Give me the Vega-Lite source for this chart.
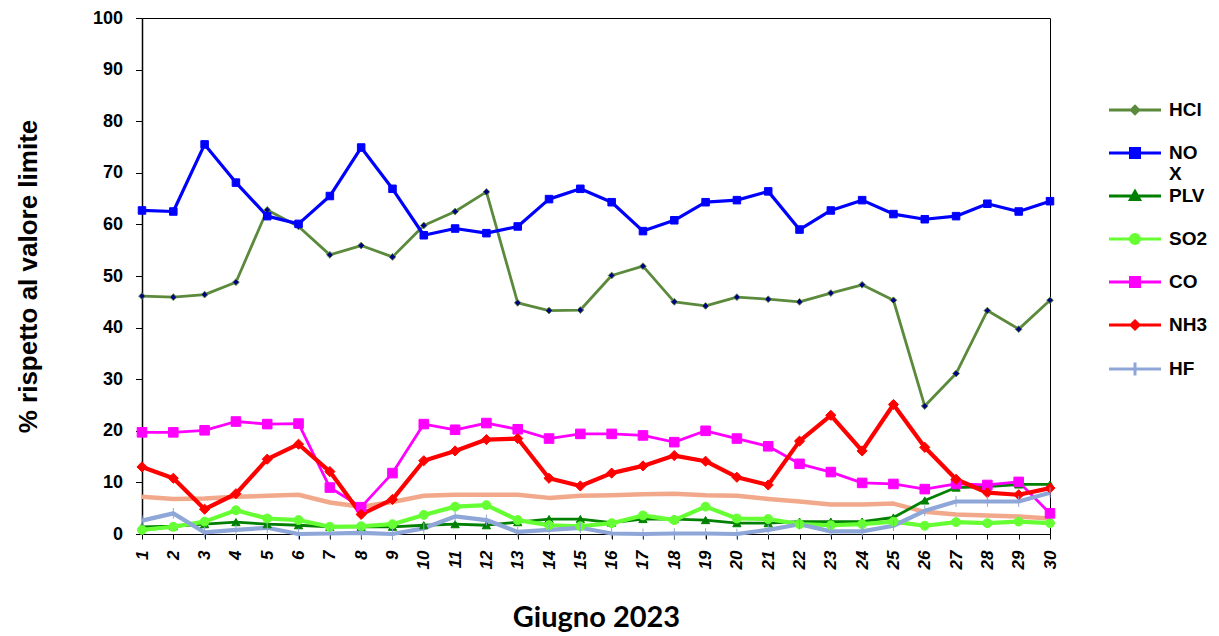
{
  "$schema": "https://vega.github.io/schema/vega-lite/v6.json",
  "autosize": "none",
  "padding": {"left": 142, "top": 18, "right": 169, "bottom": 102},
  "width": 908,
  "height": 516,
  "background": "white",
  "config": {
    "view": {"stroke": "black", "strokeWidth": 1},
    "axis": {"grid": false, "domainColor": "black", "tickColor": "black", "labelColor": "black", "titleColor": "black", "labelFont": "Liberation Sans", "titleFont": "Liberation Sans", "labelFontWeight": "bold", "titleFontWeight": "bold"}
  },
  "data": {
    "values": [
      {"day": 1, "HCl": 46.1, "NOX": 62.7, "PLV": 1.4, "SO2": 0.8, "CO": 19.7, "NH3": 13.0, "HF": 2.6, "Altro": 7.2},
      {"day": 2, "HCl": 45.9, "NOX": 62.5, "PLV": 1.5, "SO2": 1.4, "CO": 19.7, "NH3": 10.8, "HF": 4.0, "Altro": 6.8},
      {"day": 3, "HCl": 46.4, "NOX": 75.5, "PLV": 1.9, "SO2": 2.4, "CO": 20.1, "NH3": 4.8, "HF": 0.3, "Altro": 6.9},
      {"day": 4, "HCl": 48.8, "NOX": 68.1, "PLV": 2.3, "SO2": 4.6, "CO": 21.8, "NH3": 7.8, "HF": 0.8, "Altro": 7.2},
      {"day": 5, "HCl": 62.8, "NOX": 61.6, "PLV": 1.9, "SO2": 3.0, "CO": 21.3, "NH3": 14.5, "HF": 1.2, "Altro": 7.4},
      {"day": 6, "HCl": 59.6, "NOX": 60.1, "PLV": 1.7, "SO2": 2.7, "CO": 21.4, "NH3": 17.4, "HF": 0.0, "Altro": 7.6},
      {"day": 7, "HCl": 54.1, "NOX": 65.5, "PLV": 1.4, "SO2": 1.4, "CO": 9.0, "NH3": 12.1, "HF": 0.1, "Altro": 6.1},
      {"day": 8, "HCl": 55.9, "NOX": 74.9, "PLV": 1.4, "SO2": 1.5, "CO": 5.2, "NH3": 3.8, "HF": 0.2, "Altro": 5.3},
      {"day": 9, "HCl": 53.7, "NOX": 66.9, "PLV": 1.4, "SO2": 1.9, "CO": 11.8, "NH3": 6.7, "HF": 0.0, "Altro": 6.2},
      {"day": 10, "HCl": 59.8, "NOX": 57.9, "PLV": 1.7, "SO2": 3.7, "CO": 21.3, "NH3": 14.2, "HF": 1.1, "Altro": 7.4},
      {"day": 11, "HCl": 62.5, "NOX": 59.2, "PLV": 1.9, "SO2": 5.3, "CO": 20.2, "NH3": 16.1, "HF": 3.4, "Altro": 7.6},
      {"day": 12, "HCl": 66.3, "NOX": 58.3, "PLV": 1.7, "SO2": 5.6, "CO": 21.5, "NH3": 18.3, "HF": 2.7, "Altro": 7.6},
      {"day": 13, "HCl": 44.8, "NOX": 59.6, "PLV": 2.3, "SO2": 2.7, "CO": 20.3, "NH3": 18.5, "HF": 0.4, "Altro": 7.6},
      {"day": 14, "HCl": 43.3, "NOX": 64.9, "PLV": 2.9, "SO2": 1.7, "CO": 18.5, "NH3": 10.8, "HF": 0.8, "Altro": 7.0},
      {"day": 15, "HCl": 43.4, "NOX": 66.9, "PLV": 2.9, "SO2": 1.5, "CO": 19.4, "NH3": 9.3, "HF": 1.2, "Altro": 7.4},
      {"day": 16, "HCl": 50.1, "NOX": 64.3, "PLV": 2.2, "SO2": 2.1, "CO": 19.4, "NH3": 11.8, "HF": 0.1, "Altro": 7.5},
      {"day": 17, "HCl": 51.9, "NOX": 58.7, "PLV": 2.9, "SO2": 3.6, "CO": 19.1, "NH3": 13.2, "HF": 0.0, "Altro": 7.7},
      {"day": 18, "HCl": 45.0, "NOX": 60.8, "PLV": 2.9, "SO2": 2.7, "CO": 17.8, "NH3": 15.2, "HF": 0.1, "Altro": 7.8},
      {"day": 19, "HCl": 44.2, "NOX": 64.3, "PLV": 2.7, "SO2": 5.3, "CO": 20.0, "NH3": 14.1, "HF": 0.1, "Altro": 7.5},
      {"day": 20, "HCl": 45.9, "NOX": 64.7, "PLV": 2.1, "SO2": 3.0, "CO": 18.5, "NH3": 11.0, "HF": 0.0, "Altro": 7.4},
      {"day": 21, "HCl": 45.5, "NOX": 66.4, "PLV": 2.1, "SO2": 2.9, "CO": 17.0, "NH3": 9.5, "HF": 0.8, "Altro": 6.8},
      {"day": 22, "HCl": 45.0, "NOX": 59.0, "PLV": 2.4, "SO2": 1.9, "CO": 13.6, "NH3": 18.0, "HF": 1.9, "Altro": 6.3},
      {"day": 23, "HCl": 46.7, "NOX": 62.7, "PLV": 2.4, "SO2": 1.7, "CO": 12.0, "NH3": 23.0, "HF": 0.5, "Altro": 5.7},
      {"day": 24, "HCl": 48.3, "NOX": 64.7, "PLV": 2.4, "SO2": 1.9, "CO": 9.9, "NH3": 16.1, "HF": 0.5, "Altro": 5.7},
      {"day": 25, "HCl": 45.3, "NOX": 62.0, "PLV": 3.2, "SO2": 2.4, "CO": 9.7, "NH3": 25.1, "HF": 1.6, "Altro": 5.9},
      {"day": 26, "HCl": 24.8, "NOX": 61.0, "PLV": 6.5, "SO2": 1.6, "CO": 8.7, "NH3": 16.8, "HF": 4.5, "Altro": 4.3},
      {"day": 27, "HCl": 31.1, "NOX": 61.6, "PLV": 9.0, "SO2": 2.3, "CO": 9.7, "NH3": 10.6, "HF": 6.3, "Altro": 3.8},
      {"day": 28, "HCl": 43.3, "NOX": 64.0, "PLV": 9.2, "SO2": 2.1, "CO": 9.5, "NH3": 8.0, "HF": 6.3, "Altro": 3.6},
      {"day": 29, "HCl": 39.7, "NOX": 62.5, "PLV": 9.6, "SO2": 2.4, "CO": 10.1, "NH3": 7.6, "HF": 6.3, "Altro": 3.4},
      {"day": 30, "HCl": 45.3, "NOX": 64.5, "PLV": 9.6, "SO2": 2.1, "CO": 4.0, "NH3": 8.9, "HF": 8.0, "Altro": 3.0}
    ]
  },
  "transform": [
    {"fold": ["Altro", "HCl", "NOX", "PLV", "SO2", "CO", "NH3", "HF"], "as": ["series", "value"]}
  ],
  "encoding": {
    "x": {
      "field": "day", "type": "quantitative",
      "scale": {"domain": [1, 30], "nice": false, "zero": false},
      "axis": {
        "values": [1,2,3,4,5,6,7,8,9,10,11,12,13,14,15,16,17,18,19,20,21,22,23,24,25,26,27,28,29,30],
        "labelAngle": -90, "labelFontSize": 17, "labelFontStyle": "italic", "tickSize": 5, "labelPadding": 11,
        "domainWidth": 1,
        "title": "Giugno 2023", "titleFont": "Lato", "titleFontSize": 29, "titlePadding": 35
      }
    },
    "y": {
      "field": "value", "type": "quantitative",
      "scale": {"domain": [0, 100], "nice": false},
      "axis": {
        "values": [0,10,20,30,40,50,60,70,80,90,100],
        "labelFontSize": 18, "tickSize": 6.5, "labelPadding": 13, "domainWidth": 1.5,
        "title": "% rispetto al valore limite", "titleFontSize": 26, "titlePadding": 51
      }
    }
  },
  "layer": [
    {
      "transform": [{"filter": "datum.series == 'Altro'"}],
      "mark": {"type": "line", "strokeWidth": 4.5, "strokeJoin": "round"},
      "encoding": {
        "color": {
          "field": "series", "type": "nominal",
          "scale": {
            "domain": ["HCl", "NOX", "PLV", "SO2", "CO", "NH3", "HF", "Altro"],
            "range": ["#5B8A3C", "#0000FF", "#008000", "#66FF33", "#FF00FF", "#FF0000", "#8FA6D8", "#F2A88A"]
          },
          "legend": {
            "title": null,
            "orient": "none",
            "legendX": 981.5,
            "legendY": 80.5,
            "padding": 0,
            "values": ["HCl", "NOX", "PLV", "SO2", "CO", "NH3", "HF"],
            "symbolSize": 400,
            "symbolStrokeWidth": 3,
            "rowPadding": 0,
            "labelOffset": 22.5,
            "labelFont": "Liberation Sans",
            "labelFontWeight": "bold",
            "labelFontSize": 19,
            "labelColor": "black",
            "labelLimit": 200,
            "labelExpr": "datum.label == 'NOX' ? ['NO', 'X'] : [datum.label, ' ']",
            "encode": {
              "symbols": {
                "update": {
                  "shape": {"signal": "datum.value == 'HCl' ? 'M-2.6,0H2.6M0,-0.36L0.36,0L0,0.36L-0.36,0Z' : datum.value == 'NOX' || datum.value == 'CO' ? 'M-2.6,0H2.6M-0.45,-0.45H0.45V0.45H-0.45Z' : datum.value == 'PLV' ? 'M-2.6,0H2.6M0,-0.45L0.45,0.35H-0.45Z' : datum.value == 'SO2' ? 'M-2.6,0H2.6M-0.45,0A0.45,0.45 0 1 0 0.45,0A0.45,0.45 0 1 0 -0.45,0Z' : datum.value == 'NH3' ? 'M-2.6,0H2.6M0,-0.4L0.4,0L0,0.4L-0.4,0Z' : 'M-2.6,0H2.6M0,-0.65V0.65'"},
                  "fill": {"signal": "datum.value == 'HCl' ? '#000080' : scale('color', datum.value)"},
                  "fillOpacity": {"value": 1}
                }
              }
            }
          }
        }
      }
    },
    {
      "transform": [{"filter": "datum.series == 'HCl' || datum.series == 'PLV' || datum.series == 'CO'"}],
      "mark": {"type": "line", "strokeWidth": 2.8, "strokeJoin": "round"},
      "encoding": {"color": {"field": "series", "type": "nominal", "legend": null}}
    },
    {
      "transform": [{"filter": "datum.series == 'NOX'"}],
      "mark": {"type": "line", "strokeWidth": 3.2, "strokeJoin": "round"},
      "encoding": {"color": {"field": "series", "type": "nominal", "legend": null}}
    },
    {
      "transform": [{"filter": "datum.series == 'SO2' || datum.series == 'NH3' || datum.series == 'HF'"}],
      "mark": {"type": "line", "strokeWidth": 4.2, "strokeJoin": "round"},
      "encoding": {"color": {"field": "series", "type": "nominal", "legend": null}}
    },
    {
      "transform": [{"filter": "datum.series != 'Altro'"}],
      "mark": {"type": "point", "filled": true, "opacity": 1, "strokeWidth": 1},
      "encoding": {
        "fill": {
          "field": "series", "type": "nominal",
          "scale": {
            "domain": ["HCl", "NOX", "PLV", "SO2", "CO", "NH3", "HF"],
            "range": ["#000080", "#0000FF", "#008000", "#66FF33", "#FF00FF", "#FF0000", "#8FA6D8"]
          },
          "legend": null
        },
        "stroke": {
          "field": "series", "type": "nominal",
          "scale": {
            "domain": ["HCl", "NOX", "PLV", "SO2", "CO", "NH3", "HF"],
            "range": ["#5B8A3C", "#0000FF", "#008000", "#66FF33", "#FF00FF", "#FF0000", "#8FA6D8"]
          },
          "legend": null
        },
        "shape": {
          "field": "series", "type": "nominal",
          "scale": {
            "domain": ["HCl", "NOX", "PLV", "SO2", "CO", "NH3", "HF"],
            "range": ["diamond", "square", "triangle-up", "circle", "square", "diamond", "M0,-1V1"]
          },
          "legend": null
        },
        "size": {
          "field": "series", "type": "ordinal",
          "scale": {
            "domain": ["HCl", "NOX", "PLV", "SO2", "CO", "NH3", "HF"],
            "range": [45, 115, 75, 90, 100, 65, 220]
          },
          "legend": null
        }
      }
    }
  ]
}
